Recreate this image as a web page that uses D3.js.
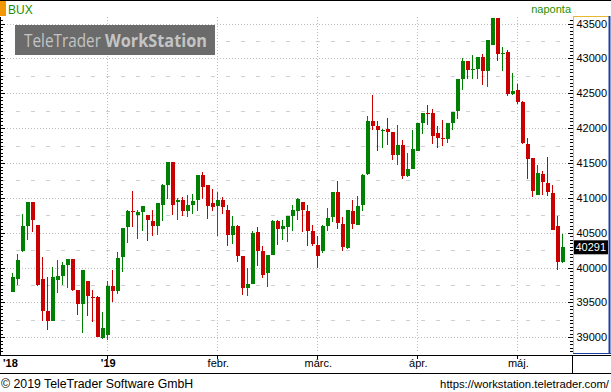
<!DOCTYPE html>
<html><head><meta charset="utf-8">
<script src="https://cdn.jsdelivr.net/npm/d3@7"></script>
<style>html,body{margin:0;padding:0;background:#fff;}svg{display:block;}</style>
</head><body>
<script>
const openV  = [39655,39842,40231,40591,40946,40615,39837,39377,39237,39823,39881,40039,40125,39679,39477,39809,39583,39573,38993,39031,39737,39669,40145,40577,40817,40749,40793,40749,40673,40601,40903,41191,41513,40937,40975,40817,40903,40975,41335,41181,40927,40879,40975,40831,40471,40601,40169,39713,39765,40505,40231,39929,40183,40663,40557,40577,40735,40817,40937,40817,40519,40327,40231,40601,40721,41085,40629,40279,40817,40615,40893,41349,42103,42031,41959,41983,41945,41613,41753,41311,41421,41671,42069,42223,42213,41925,41853,41839,42069,42247,42703,42957,42833,42847,43015,42823,43197,43581,43063,43097,42487,42549,42377,41767,41575,41047,41345,41215,41071,40591,40087];
const highV  = [39919,40197,40773,40946,40946,40615,40145,39871,40015,40111,40073,40125,40125,39679,39967,39809,39679,39593,39367,39809,39967,40217,40567,40831,41105,40831,40889,40759,40831,40927,41205,41513,41513,40999,41013,41047,41061,41335,41373,41191,41129,41081,41009,40903,40735,40615,40169,39999,40519,40577,40313,40183,40677,40677,40687,40745,40893,41005,40946,40903,40615,40457,40615,40855,41085,41249,40725,40831,40975,41033,41349,42175,42473,42103,41993,42141,41945,42041,41825,41637,41969,42069,42223,42329,42271,42031,42113,42079,42237,42703,43001,42957,43049,43025,43063,43269,43581,43581,43159,43125,42789,42631,42391,41863,41575,41465,41383,41589,41191,40745,40485];
const lowV   = [39655,39751,40220,40399,40509,39737,39237,39103,39237,39631,39751,39703,39669,39319,39065,39305,39223,39007,38969,38959,39511,39621,39943,40351,40577,40413,40531,40375,40447,40471,40663,40989,40759,40687,40745,40721,40773,40817,40989,40701,40807,40457,40773,40313,40341,40087,39607,39597,39765,40025,39857,39727,40183,40327,40389,40361,40531,40677,40505,40303,40303,39991,40207,40529,40649,40557,40245,40269,40557,40605,40817,41335,41973,41671,41709,41757,41541,41465,41277,41301,41421,41671,41911,42041,41767,41719,41743,41781,41973,42127,42549,42703,42703,42703,42617,42593,43197,42967,42823,42463,42473,42343,41767,41273,41009,41047,41037,41033,40533,39967,40063];
const closeV = [39871,40111,40591,40946,40677,39751,39381,39237,39871,39881,40039,40125,39679,39477,39967,39593,39569,39007,39127,39737,39665,40135,40567,40817,40793,40797,40889,40677,40601,40927,41191,41513,40903,40975,40817,40903,40951,41335,41153,40879,40865,40975,40865,40471,40601,40169,39713,39765,40495,40231,39895,40183,40663,40557,40591,40735,40819,40989,40821,40529,40341,40169,40601,40711,41085,40639,40289,40831,40625,40889,41335,42103,42031,41969,41973,41945,41609,41753,41321,41417,41695,42069,42223,42199,41887,41853,41839,42069,42237,42703,42957,42837,42847,43025,42823,43269,43581,43063,43077,42487,42535,42377,41781,41551,41095,41359,41225,41081,40543,40087,40291];
const monthIdx    = [19, 41, 61, 81, 101];
const monthLabels = ["'19", "febr.", "márc.", "ápr.", "máj."];
const yearStartLabel = "'18";
const yTicks = [39000, 39500, 40000, 40500, 41000, 41500, 42000, 42500, 43000, 43500];
const lastPrice = 40291;
const titleText = "BUX";
const periodText = "naponta";

const W = 611, H = 392;
const svg = d3.select("body").append("svg").attr("width", W).attr("height", H)
  .style("font-family", "'Liberation Sans', Arial, sans-serif");
svg.append("rect").attr("width", W).attr("height", H).attr("fill", "#fff");

const plotTop = 17, plotBottom = 353, plotLeft = 1, plotRight = 572;
const x = d3.scaleLinear().domain([0, openV.length - 1]).range([12.3, 562.3]);
const y = d3.scaleLinear().domain([39000, 43500]).range([337.3, 23.6]);

// header
svg.append("line").attr("x1", 0).attr("x2", W).attr("y1", 0.5).attr("y2", 0.5).attr("stroke", "#000");
svg.append("rect").attr("x", 0).attr("y", 1).attr("width", 6).attr("height", 15).attr("fill", "#f39800");
svg.append("text").attr("x", 8).attr("y", 14).attr("font-size", 12).attr("fill", "#1f8f00").text(titleText);
svg.append("text").attr("x", 571).attr("y", 13).attr("text-anchor", "end").attr("font-size", 11).attr("fill", "#1f8f00").text(periodText);

// grid
const g = svg.append("g");
const gridV = d3.range(38750, 43800, 250).filter(v => y(v) > plotTop && y(v) < plotBottom);
gridV.forEach(v => {
  const major = v % 500 === 0;
  g.append("line").attr("x1", plotLeft).attr("x2", plotRight)
    .attr("y1", Math.round(y(v)) + 0.5).attr("y2", Math.round(y(v)) + 0.5)
    .attr("stroke", major ? "#bdbdbd" : "#d0d0d0")
    .attr("stroke-dasharray", major ? "1,2" : "4,11");
});
monthIdx.forEach(i => {
  g.append("line").attr("x1", Math.round(x(i)) + 0.5).attr("x2", Math.round(x(i)) + 0.5)
    .attr("y1", plotTop).attr("y2", plotBottom)
    .attr("stroke", "#bdbdbd").attr("stroke-dasharray", "1,2");
});

// logo
const logo = svg.append("g");
logo.append("rect").attr("x", 15).attr("y", 25).attr("width", 200).attr("height", 30).attr("fill", "#6b6b6b");
const lg = logo.append("g").attr("transform", "translate(0,46.5) scale(1,1.2)")
  .attr("font-family", "'Open Sans', sans-serif").attr("fill", "#c4c4c4");
lg.append("text").attr("x", 24).attr("y", 0).attr("font-size", 14.5)
  .attr("textLength", 77).attr("lengthAdjust", "spacingAndGlyphs").text("TeleTrader");
lg.append("text").attr("x", 105).attr("y", 0).attr("font-size", 14.5).attr("font-weight", 700)
  .attr("textLength", 102).attr("lengthAdjust", "spacingAndGlyphs").text("WorkStation");

// candles
const idx = d3.range(openV.length);
const col = i => closeV[i] >= openV[i] ? "#008000" : "#c80000";
const cg = svg.append("g").attr("shape-rendering", "crispEdges");
cg.selectAll("line.wick").data(idx).join("line")
  .attr("x1", i => Math.round(x(i)) + 0.5).attr("x2", i => Math.round(x(i)) + 0.5)
  .attr("y1", i => y(highV[i])).attr("y2", i => y(lowV[i]))
  .attr("stroke", col);
cg.selectAll("rect.body").data(idx).join("rect")
  .attr("x", i => Math.round(x(i)) - 1.5)
  .attr("width", 4)
  .attr("y", i => y(Math.max(openV[i], closeV[i])))
  .attr("height", i => Math.max(1, Math.abs(y(openV[i]) - y(closeV[i]))))
  .attr("fill", col);

// left axis
svg.append("line").attr("x1", 0.5).attr("x2", 0.5).attr("y1", plotTop).attr("y2", 355).attr("stroke", "#000");
const minorTicks = d3.range(38700, 43850, 50).filter(v => y(v) >= plotTop && y(v) <= plotBottom);
minorTicks.forEach(v => {
  const major = v % 500 === 0;
  const yy = Math.round(y(v)) + 0.5;
  svg.append("line").attr("x1", 0).attr("x2", major ? 5 : 3).attr("y1", yy).attr("y2", yy).attr("stroke", "#000");
  svg.append("line").attr("x1", major ? 568 : 570).attr("x2", 573).attr("y1", yy).attr("y2", yy).attr("stroke", "#000");
});

// right axis box
svg.append("line").attr("x1", 573).attr("x2", 609).attr("y1", 16.5).attr("y2", 16.5).attr("stroke", "#e8b830");
svg.append("line").attr("x1", 573.5).attr("x2", 573.5).attr("y1", 16).attr("y2", 353).attr("stroke", "#e8b830");
svg.append("line").attr("x1", 573).attr("x2", 611).attr("y1", 353.5).attr("y2", 353.5).attr("stroke", "#1f3fa0").attr("stroke-width", 1);
svg.append("line").attr("x1", 609.5).attr("x2", 609.5).attr("y1", 16).attr("y2", 354).attr("stroke", "#1f3fa0").attr("stroke-width", 2);
svg.append("g").selectAll("text").data(yTicks).join("text")
  .attr("x", 607).attr("y", v => y(v) + 4).attr("text-anchor", "end").attr("font-size", 11).attr("fill", "#000")
  .text(v => v);
svg.append("rect").attr("x", 574).attr("y", y(lastPrice) - 7).attr("width", 34).attr("height", 14).attr("fill", "#000");
svg.append("text").attr("x", 606).attr("y", y(lastPrice) + 4).attr("text-anchor", "end").attr("font-size", 11)
  .attr("fill", "#fff").text(lastPrice);

// x axis band
svg.append("line").attr("x1", 0).attr("x2", W).attr("y1", 355.5).attr("y2", 355.5).attr("stroke", "#000");
svg.append("line").attr("x1", 0).attr("x2", W).attr("y1", 373.5).attr("y2", 373.5).attr("stroke", "#000");
svg.append("line").attr("x1", 572.5).attr("x2", 572.5).attr("y1", 355).attr("y2", 374).attr("stroke", "#000");
monthIdx.forEach(i => {
  svg.append("line").attr("x1", Math.round(x(i)) + 0.5).attr("x2", Math.round(x(i)) + 0.5)
    .attr("y1", 356).attr("y2", 359).attr("stroke", "#000");
});
svg.append("text").attr("x", 3).attr("y", 367).attr("font-size", 11).attr("font-weight", 700).text(yearStartLabel);
svg.append("g").selectAll("text").data(monthIdx).join("text")
  .attr("x", i => x(i) + 1).attr("y", 367).attr("text-anchor", "middle").attr("font-size", 11)
  .attr("font-weight", (d, k) => monthLabels[k].startsWith("'") ? 700 : 400)
  .text((d, k) => monthLabels[k]);

// footer
svg.append("text").attr("x", 1).attr("y", 388).attr("font-size", 12.3).text("© 2019 TeleTrader Software GmbH");
svg.append("text").attr("x", 609).attr("y", 388).attr("text-anchor", "end").attr("font-size", 11.3).text("https://workstation.teletrader.com/");
</script>
</body></html>
